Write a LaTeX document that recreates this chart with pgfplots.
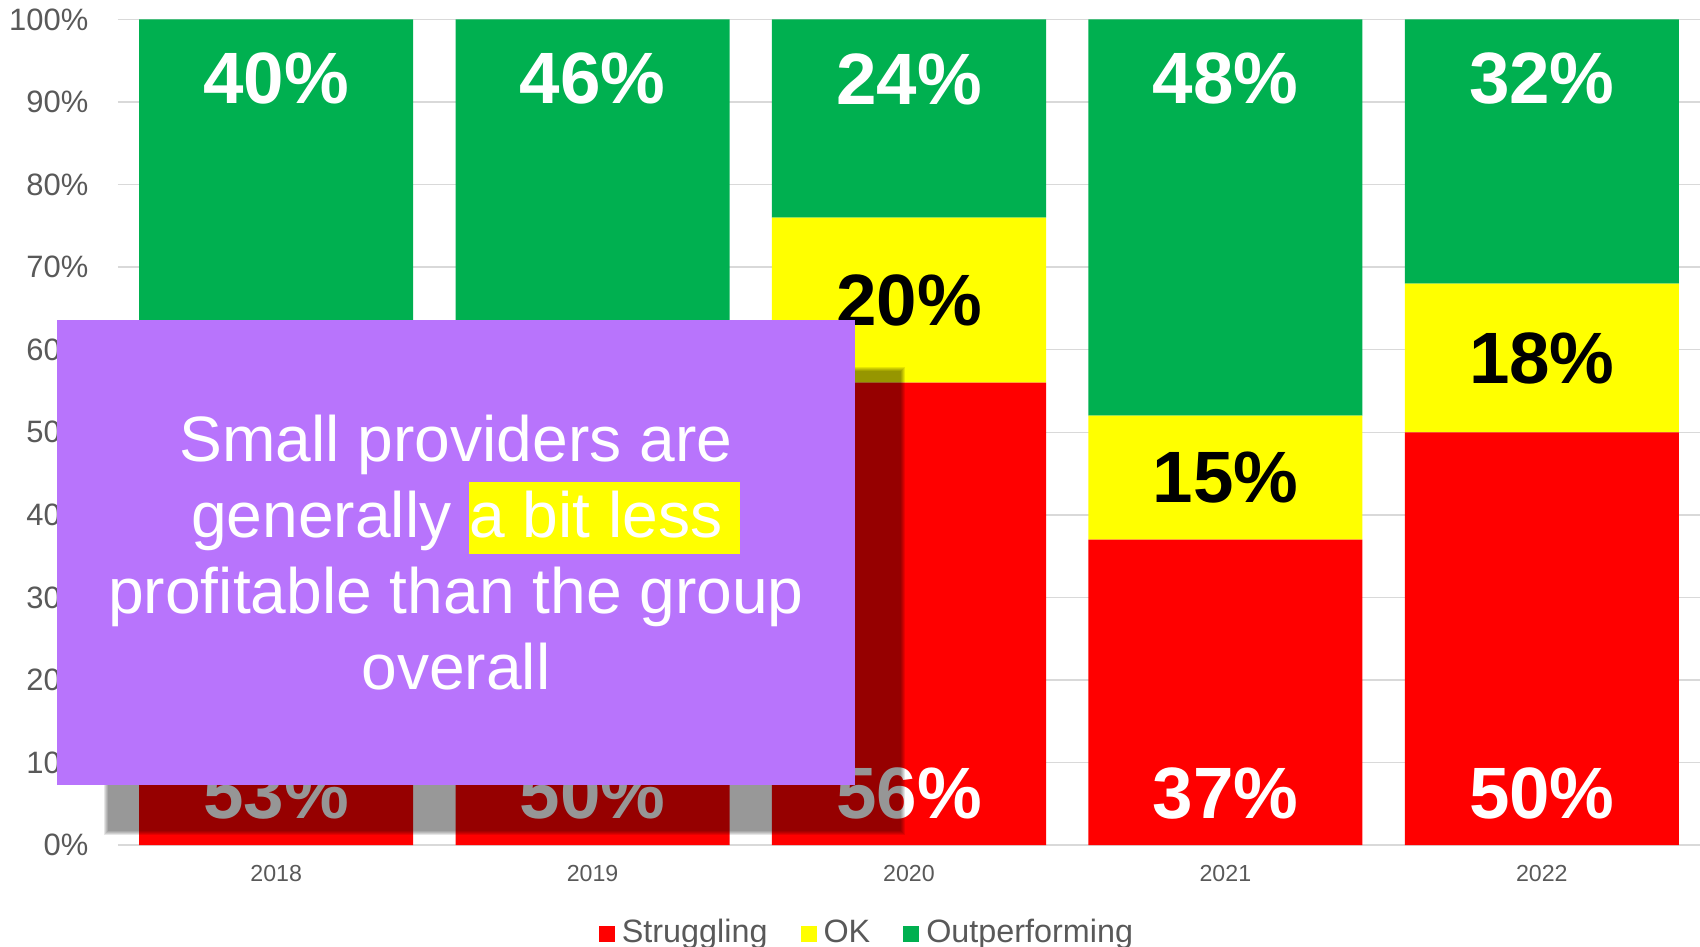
\documentclass[border=0pt]{standalone}
\usepackage{pgfplots}
\pgfplotsset{compat=1.18}
\usepackage{fontspec}
\setmainfont{Liberation Sans}
\definecolor{cRed}{HTML}{FF0000}
\definecolor{cYel}{HTML}{FFFF00}
\definecolor{cGrn}{HTML}{00B050}
\definecolor{cPur}{HTML}{B874FC}
\definecolor{tGrey}{HTML}{595959}
\definecolor{gGrid}{HTML}{D9D9D9}
\pgfplotsset{sq legend/.style={legend image code/.code={\fill[##1] (0cm,-0.08cm) rectangle (0.16cm,0.08cm);}}}
\tikzset{lbl/.style={font=\fontsize{20.7}{24}\selectfont\bfseries, inner sep=0pt}}
\begin{document}
\begin{tikzpicture}
\useasboundingbox (0,0) rectangle (17,9.46);
\begin{axis}[
    at={(1.18cm,1.01cm)}, anchor=south west,
    scale only axis, width=15.82cm, height=8.255cm,
    ybar stacked, bar width=2.74cm,
    xmin=-0.5, xmax=4.5, ymin=0, ymax=100,
    xtick={0,1,2,3,4}, xticklabels={2018,2019,2020,2021,2022},
    ytick={0,10,...,100},
    yticklabels={0\%,10\%,20\%,30\%,40\%,50\%,60\%,70\%,80\%,90\%,100\%},
    axis line style={draw=none}, major tick length=0pt,
    ymajorgrids, grid style={gGrid, line width=0.4pt},
    yticklabel style={font=\fontsize{8.8}{10}\selectfont, text=tGrey, anchor=east, inner sep=0pt, xshift=-0.29cm},
    xticklabel style={font=\fontsize{6.6}{8}\selectfont, text=tGrey, anchor=base, inner sep=0pt, yshift=-0.367cm},
    legend style={at={(0.475,-0.1077)}, anchor=center, draw=none, fill=none,
        font=\fontsize{9.2}{11}\selectfont, text=tGrey,
        /tikz/every even column/.append style={column sep=0.26cm}},
    legend columns=-1,
]
\addplot[fill=cRed, draw=none, sq legend] coordinates {(0,53) (1,50) (2,56) (3,37) (4,50)};
\addlegendentry{Struggling}
\addplot[fill=cYel, draw=none, sq legend] coordinates {(0,7) (1,4) (2,20) (3,15) (4,18)};
\addlegendentry{OK}
\addplot[fill=cGrn, draw=none, sq legend] coordinates {(0,40) (1,46) (2,24) (3,48) (4,32)};
\addlegendentry{Outperforming}

% label anchors: bottom, middle, top of each bar
\coordinate (b0) at (axis cs:0,6.2);
\coordinate (b1) at (axis cs:1,6.2);
\coordinate (b2) at (axis cs:2,6.2);
\coordinate (b3) at (axis cs:3,6.2);
\coordinate (b4) at (axis cs:4,6.2);
\coordinate (m0) at (axis cs:0,56.5);
\coordinate (m1) at (axis cs:1,52);
\coordinate (m2) at (axis cs:2,66);
\coordinate (m3) at (axis cs:3,44.5);
\coordinate (m4) at (axis cs:4,59);
\coordinate (t0) at (axis cs:0,92.8);
\coordinate (t1) at (axis cs:1,92.8);
\coordinate (t2) at (axis cs:2,92.8);
\coordinate (t3) at (axis cs:3,92.8);
\coordinate (t4) at (axis cs:4,92.8);
\end{axis}

\node[lbl, text=white] at (b0) {53\%};
\node[lbl, text=white] at (b1) {50\%};
\node[lbl, text=white] at (b2) {56\%};
\node[lbl, text=white] at (b3) {37\%};
\node[lbl, text=white] at (b4) {50\%};
\node[lbl, text=black] at (m0) {7\%};
\node[lbl, text=black] at (m1) {4\%};
\node[lbl, text=black] at (m2) {20\%};
\node[lbl, text=black] at (m3) {15\%};
\node[lbl, text=black] at (m4) {18\%};
\node[lbl, text=white] at (t0) {40\%};
\node[lbl, text=white] at (t1) {46\%};
\node[lbl, text=white] at (t2) {24\%};
\node[lbl, text=white] at (t3) {48\%};
\node[lbl, text=white] at (t4) {32\%};

% soft shadow of the callout box
\foreach \d in {-0.024,-0.012,0,0.012,0.024}
  \fill[black, opacity=0.097] (1.06+\d,1.13+\d) rectangle (9.03-\d,5.77-\d);
% callout box
\fill[cPur] (0.57,1.61) rectangle (8.55,6.26);
\setlength{\fboxsep}{0pt}
\node[text=white, align=center, inner sep=0pt, font=\fontsize{18.25}{21.6}\selectfont] at (4.56,3.935)
  {Small providers are\\ \hspace*{0.195cm}generally \colorbox{cYel}{\vrule height 15.7pt depth 4.6pt width 0pt a bit less\ }\\ profitable than the group\\ overall};
\end{tikzpicture}
\end{document}
